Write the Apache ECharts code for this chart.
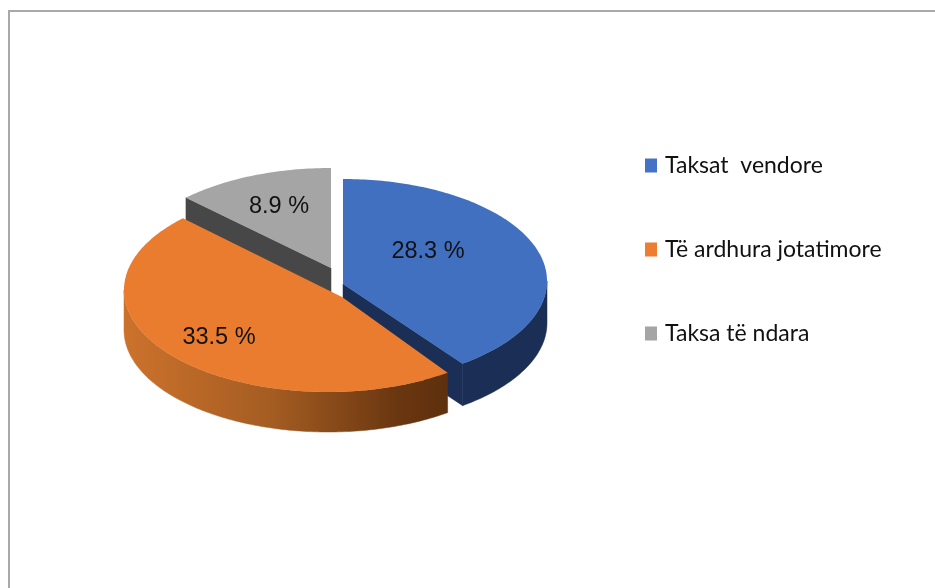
<!DOCTYPE html>
<html>
<head>
<meta charset="utf-8">
<style>
  html, body { margin: 0; padding: 0; background: #fff; }
  #chart { width: 935px; height: 588px; }
</style>
<script src="https://cdn.jsdelivr.net/npm/echarts@6/dist/echarts.min.js"></script>
</head>
<body>
<div id="chart"></div>
<script>
  const categories = ['Taksat  vendore', 'Të ardhura jotatimore', 'Taksa të ndara'];
  const shares = [28.3, 33.5, 8.9];

  const legendColors = ['#4472C4', '#ED7D31', '#A5A5A5'];
  // each slice is pulled out a little, so it has its own ellipse and apex
  const sliceLayout = [
    { cx: 343, cy: 281, rx: 204, ry: 102, apex: [343, 284], depth: 42, z: 2, top: '#4170C0', side: '#1A2E56', cut: '#1A2E56', labelX: 428, labelY: 252 },
    { cx: 328, cy: 290, rx: 204, ry: 102, apex: [342, 297], depth: 40, z: 3, top: '#EA7C2F', cut: null, labelX: 219, labelY: 338,
      side: new echarts.graphic.LinearGradient(124, 0, 448, 0, [
        { offset: 0, color: '#CC722C' },
        { offset: 0.45, color: '#A55D22' },
        { offset: 0.85, color: '#693610' },
        { offset: 1, color: '#5E300D' }
      ], true) },
    { cx: 331, cy: 268, rx: 204, ry: 100, apex: [331, 268], depth: 42, z: 1, top: '#A5A5A5', side: null, cut: '#474747', labelX: 279, labelY: 207 }
  ];

  const total = shares.reduce((a, b) => a + b, 0);
  const startAngles = [];
  shares.reduce((acc, v, i) => { startAngles[i] = acc; return acc + v / total * 360; }, 0);

  function rimPoint (s, deg, drop) {
    const r = deg * Math.PI / 180;
    return [s.cx + s.rx * Math.sin(r), s.cy - s.ry * Math.cos(r) + (drop || 0)];
  }

  function renderSlice (i) {
    const s = sliceLayout[i];
    const from = startAngles[i];
    const to = from + shares[i] / total * 360;
    const rim = [];
    for (let a = from; a < to; a += 1) rim.push(rimPoint(s, a));
    rim.push(rimPoint(s, to));
    const children = [];

    // cut wall along the leading edge, only the ones facing the viewer
    if (s.cut) {
      const edge = i === 2 ? from : to;
      const p = rimPoint(s, edge);
      children.push({
        type: 'polygon',
        shape: { points: [s.apex, p, [p[0], p[1] + s.depth], [s.apex[0], s.apex[1] + s.depth]] },
        style: { fill: s.cut, stroke: s.cut, lineWidth: 0.5 }
      });
    }
    // outer wall, the front half of the ellipse only
    if (s.side) {
      const a0 = Math.max(from, 90);
      const a1 = Math.min(to, 270);
      const wall = [];
      for (let a = a0; a < a1; a += 1) wall.push(rimPoint(s, a));
      wall.push(rimPoint(s, a1));
      for (let a = a1; a > a0; a -= 1) wall.push(rimPoint(s, a, s.depth));
      wall.push(rimPoint(s, a0, s.depth));
      children.push({ type: 'polygon', shape: { points: wall }, style: { fill: s.side, stroke: s.side, lineWidth: 0.5 } });
    }
    children.push({
      type: 'polygon',
      shape: { points: [s.apex].concat(rim) },
      style: { fill: s.top }
    });
    children.push({
      type: 'text',
      style: {
        x: s.labelX, y: s.labelY,
        text: shares[i].toFixed(1) + ' %',
        fill: '#111',
        font: '23.5px "Liberation Sans"',
        align: 'center',
        verticalAlign: 'middle'
      }
    });
    return { type: 'group', children: children };
  }

  const chart = echarts.init(document.getElementById('chart'));
  chart.setOption({
    animation: false,
    backgroundColor: '#fff',
    graphic: [{
      type: 'rect',
      shape: { x: 9, y: 11, width: 1000, height: 1000 },
      style: { fill: 'none', stroke: '#A9A9A9', lineWidth: 2 },
      silent: true
    }],
    legend: {
      orient: 'vertical',
      left: 645,
      top: 154,
      padding: 0,
      icon: 'rect',
      itemWidth: 12,
      itemHeight: 14,
      itemGap: 61,
      selectedMode: false,
      data: categories,
      textStyle: { fontFamily: 'Lato', fontSize: 23, color: '#111', padding: [0, 0, 0, 3] }
    },
    series: categories.map((name, i) => ({
      type: 'custom',
      name: name,
      z: sliceLayout[i].z,
      coordinateSystem: 'none',
      itemStyle: { color: legendColors[i] },
      data: [shares[i]],
      renderItem: () => renderSlice(i)
    }))
  });
</script>
</body>
</html>
